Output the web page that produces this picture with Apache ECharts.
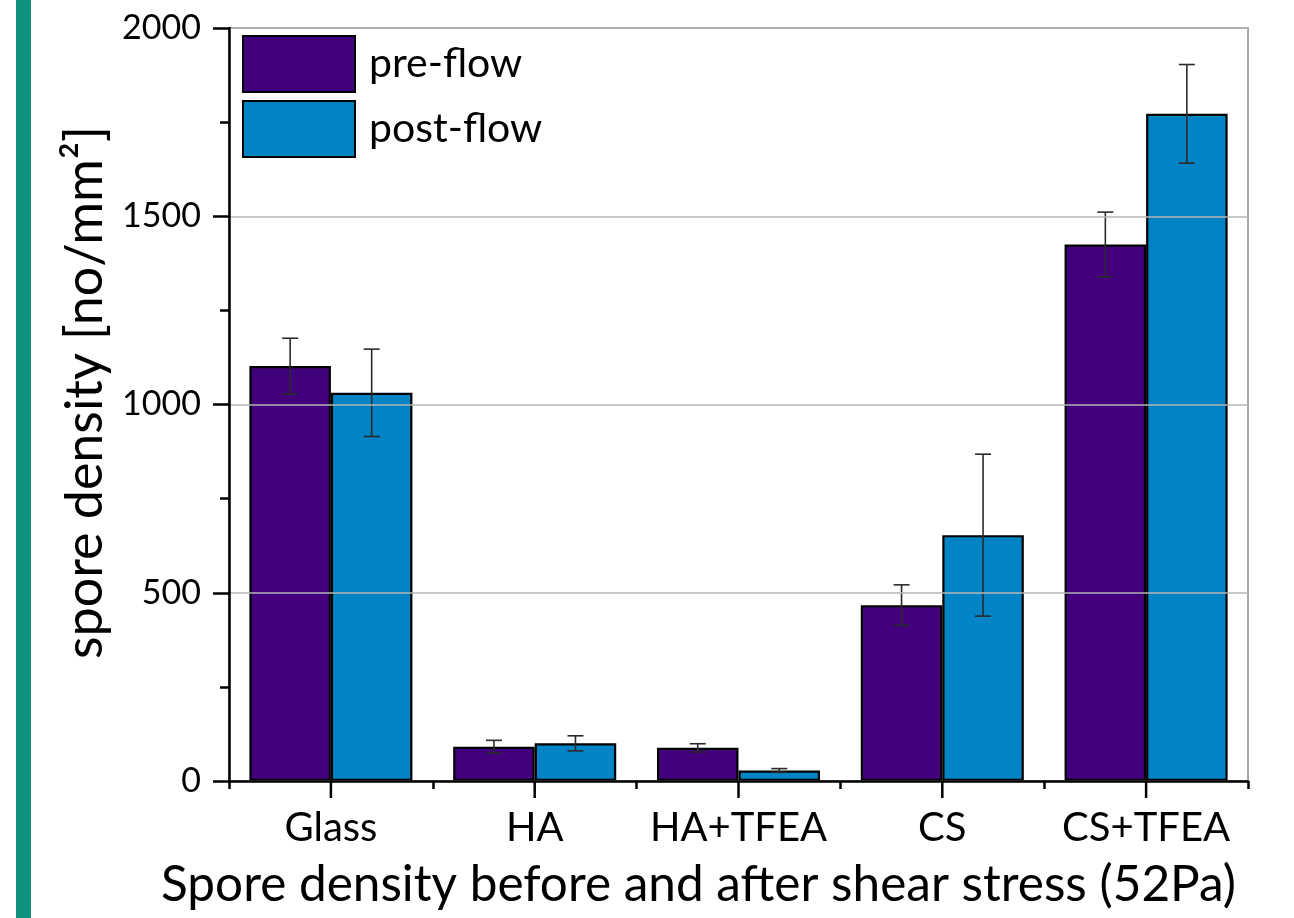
<!DOCTYPE html>
<html>
<head>
<meta charset="utf-8">
<script src="https://cdn.jsdelivr.net/npm/echarts@6/dist/echarts.min.js"></script>
<style>
  html, body { margin: 0; padding: 0; background: #ffffff; }
  #chart { width: 1294px; height: 918px; }
</style>
</head>
<body>
<div id="chart"></div>
<script>
// Substrates tested
const categories = ['Glass', 'HA', 'HA+TFEA', 'CS', 'CS+TFEA'];
// Mean spore density [no/mm²] before and after flow
const preFlow = [1102, 91, 88, 467, 1425];
const postFlow = [1031, 100, 28, 653, 1772];
// Error (± one standard deviation)
const preFlowErr = [74, 17, 11, 54, 86];
const postFlowErr = [116, 20, 5, 215, 131];
// Value axis ticks
const yTicks = [0, 500, 1000, 1500, 2000];

const FONT = 'Lato, "Open Sans", sans-serif';
const PURPLE = '#42007d';
const BLUE = '#0084c6';

const chart = echarts.init(document.getElementById('chart'), null, { renderer: 'canvas' });

// Error bar drawn around the centre of its bar (offset is a fraction of the category band)
function errorBars(values, errs, offsetFrac) {
  return {
    type: 'custom',
    xAxisIndex: 0,
    yAxisIndex: 0,
    silent: true,
    z: 5,
    data: values.map((v, i) => [i, v, errs[i]]),
    renderItem: function (params, api) {
      const i = api.value(0), v = api.value(1), e = api.value(2);
      const band = api.size([1, 0])[0];
      const base = api.coord([i, v]);
      const x = base[0] + offsetFrac * band;
      const yHi = api.coord([i, v + e])[1];
      const yLo = api.coord([i, v - e])[1];
      const cap = 8;
      const style = { stroke: '#2a2a2a', lineWidth: 1.6, fill: null };
      return {
        type: 'group',
        children: [
          { type: 'line', shape: { x1: x, y1: yHi, x2: x, y2: yLo }, style },
          { type: 'line', shape: { x1: x - cap, y1: yHi, x2: x + cap, y2: yHi }, style },
          { type: 'line', shape: { x1: x - cap, y1: yLo, x2: x + cap, y2: yLo }, style }
        ]
      };
    }
  };
}

const tickStyle = { color: '#000', width: 2.5 };
const sideStripe = { id: 'stripe', type: 'rect', shape: { x: 16, y: 0, width: 15, height: 918 }, style: { fill: '#0f937c' }, z: 0 };

const option = {
  backgroundColor: '#ffffff',
  animation: false,
  graphic: [sideStripe],
  legend: {
    orient: 'vertical',
    left: 237,
    top: 30,
    itemWidth: 112,
    itemHeight: 56,
    itemGap: 7,
    icon: 'rect',
    data: ['pre-flow', 'post-flow'],
    textStyle: { fontFamily: FONT, fontSize: 41, color: '#000', padding: [0, 0, 0, 9] }
  },
  grid: {
    left: 229, right: 46, top: 28, bottom: 137,
    show: true, borderColor: '#8a8a8a', borderWidth: 1.5, backgroundColor: 'transparent'
  },
  xAxis: {
    type: 'category',
    data: categories,
    axisLine: { lineStyle: { color: '#000', width: 2.5 } },
    axisTick: { show: true, interval: 0, length: 8, lineStyle: tickStyle },
    axisLabel: { interval: 0, fontFamily: FONT, fontSize: 40, color: '#000', margin: 27 },
    name: 'Spore density before and after shear stress (52Pa)',
    nameLocation: 'middle',
    nameGap: 79,
    nameTextStyle: { fontFamily: FONT, fontSize: 49.5, color: '#000', padding: [0, 80, 0, 0] },
    z: 10
  },
  yAxis: {
    type: 'value',
    min: yTicks[0],
    max: yTicks[yTicks.length - 1],
    interval: 500,
    axisLine: { show: true, lineStyle: { color: '#000', width: 2.5 } },
    axisTick: { show: true, length: 16, lineStyle: tickStyle },
    minorTick: { show: true, splitNumber: 2, length: 9, lineStyle: tickStyle },
    axisLabel: { fontFamily: FONT, fontSize: 34, color: '#000', margin: 28, formatter: (v) => String(v) },
    splitLine: { show: true, lineStyle: { color: '#b4b4b4', width: 1.5 } },
    name: 'spore density [no/mm²]',
    nameLocation: 'middle',
    nameGap: 112,
    nameTextStyle: { fontFamily: FONT, fontSize: 52, color: '#000', padding: [0, 0, 0, 24] },
    z: 10
  },
  series: [
    {
      name: 'pre-flow',
      type: 'bar',
      data: preFlow,
      barGap: '0%',
      barCategoryGap: '20%',
      itemStyle: { color: PURPLE, borderColor: '#000', borderWidth: 2.2 }
    },
    {
      name: 'post-flow',
      type: 'bar',
      data: postFlow,
      barGap: '0%',
      barCategoryGap: '20%',
      itemStyle: { color: BLUE, borderColor: '#000', borderWidth: 2.2 }
    },
    errorBars(preFlow, preFlowErr, -0.2),
    errorBars(postFlow, postFlowErr, 0.2)
  ]
};

chart.setOption(option);

// Long outward tick under the middle of each category, placed with the axis scale
const centreTicks = categories.map((c, i) => {
  const p = chart.convertToPixel({ xAxisIndex: 0, yAxisIndex: 0 }, [i, yTicks[0]]);
  return {
    id: 'ctick' + i,
    type: 'rect',
    z: 100,
    shape: { x: p[0] - 1.25, y: p[1], width: 2.5, height: 17 },
    style: { fill: '#000000' }
  };
});
chart.setOption({ graphic: [sideStripe].concat(centreTicks) });
</script>
</body>
</html>
